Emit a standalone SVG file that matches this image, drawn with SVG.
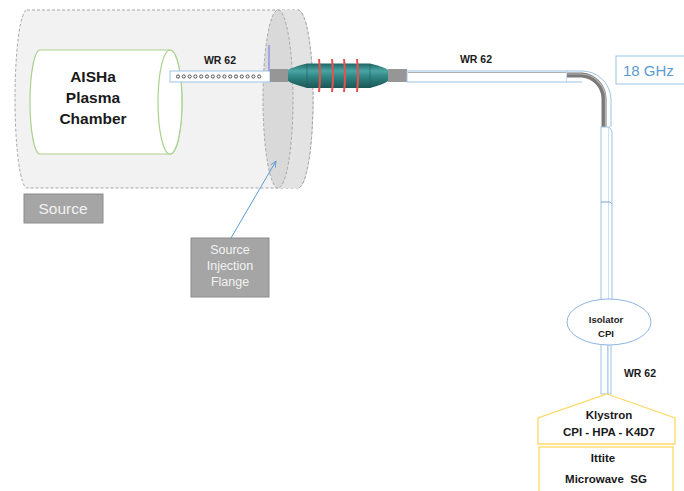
<svg xmlns="http://www.w3.org/2000/svg" width="684" height="491" viewBox="0 0 684 491">
  <defs>
    <style>
      .lbl { font-family: "Liberation Sans", Arial, sans-serif; fill: #1a1a1a; }
      .bold { font-weight: bold; }
      .wg { fill: #ffffff; stroke: #9dc3e6; stroke-width: 1; }
      .grey-box { fill: #a5a5a5; stroke: #8c8c8c; stroke-width: 1; }
      .grey-txt { font-family: "Liberation Sans", Arial, sans-serif; fill: #f2f2f2; text-anchor: middle; }
      .gold { fill: #ffffff; stroke: #ffd966; stroke-width: 1.3; }
      .ring { fill: none; stroke: #e8504f; stroke-width: 2; }
      .block { fill: #969696; }
    </style>
    <linearGradient id="teal" x1="0" y1="0" x2="0" y2="1">
      <stop offset="0" stop-color="#1f6666"/>
      <stop offset="0.3" stop-color="#4aa5a3"/>
      <stop offset="0.55" stop-color="#2f8583"/>
      <stop offset="1" stop-color="#1a5656"/>
    </linearGradient>
    <marker id="arr" viewBox="0 0 10 10" refX="9" refY="5" markerWidth="7" markerHeight="7" orient="auto">
      <path d="M0,1 L9,5 L0,9" fill="none" stroke="#5b9bd5" stroke-width="1.2"/>
    </marker>
  </defs>

  <!-- Ion source body (outer cylinder) -->
  <g id="source-body">
    <path d="M27,10 H298 A15,89 0 0 1 298,188 H27 A12,89 0 0 1 27,10 Z" fill="#f2f2f2" stroke="#a6a6a6" stroke-width="1" stroke-dasharray="3,2"/>
  </g>

  <!-- Injection flange -->
  <g id="injection-flange">
    <path d="M278,10 H298 A15,89 0 0 1 298,188 H278 A15,89 0 0 1 278,10 Z" fill="#d9d9d9"/>
    <path d="M278,10 A15,89 0 0 1 278,188 H298 A15,89 0 0 0 298,10 Z" fill="#e3e3e3"/>
    <path d="M278,188 A15,89 0 0 1 278,10" fill="none" stroke="#a6a6a6" stroke-dasharray="3,2"/>
    <path d="M278,10 A15,89 0 0 1 278,188" fill="none" stroke="#a6a6a6" stroke-dasharray="3,2"/>
    <path d="M298,10 A15,89 0 0 1 298,188" fill="none" stroke="#a6a6a6" stroke-dasharray="3,2"/>
  </g>

  <!-- Plasma chamber -->
  <g id="plasma-chamber">
    <path d="M40,50 H170 A12,52 0 0 1 170,154 H40 A10,52 0 0 1 40,50 Z" fill="#ffffff" stroke="#a9d18e" stroke-width="1.2"/>
    <ellipse cx="170" cy="102" rx="12" ry="52" fill="#ffffff" stroke="#a9d18e" stroke-width="1.2"/>
    <text class="lbl bold" x="93" y="82" font-size="15.5" text-anchor="middle">AISHa</text>
    <text class="lbl bold" x="93" y="103" font-size="15.5" text-anchor="middle">Plasma</text>
    <text class="lbl bold" x="93" y="124" font-size="15.5" text-anchor="middle">Chamber</text>
  </g>

  <!-- Waveguide line: injection section, DC break, transmission line -->
  <g id="waveguide-line">
    <rect class="wg" x="170" y="71" width="100" height="11"/>
    <g fill="none" stroke="#404040" stroke-width="0.9">
      <circle cx="178" cy="76.5" r="1.6"/><circle cx="183.8" cy="76.5" r="1.6"/><circle cx="189.6" cy="76.5" r="1.6"/>
      <circle cx="195.4" cy="76.5" r="1.6"/><circle cx="201.2" cy="76.5" r="1.6"/><circle cx="207" cy="76.5" r="1.6"/>
      <circle cx="212.8" cy="76.5" r="1.6"/><circle cx="218.6" cy="76.5" r="1.6"/><circle cx="224.4" cy="76.5" r="1.6"/>
      <circle cx="230.2" cy="76.5" r="1.6"/><circle cx="236" cy="76.5" r="1.6"/><circle cx="241.8" cy="76.5" r="1.6"/>
      <circle cx="247.6" cy="76.5" r="1.6"/><circle cx="253.4" cy="76.5" r="1.6"/><circle cx="259.2" cy="76.5" r="1.6"/>
    </g>
    <line x1="269" y1="45" x2="269" y2="71" stroke="#7373e6" stroke-width="1"/>
    <text class="lbl bold" x="220" y="64" font-size="10.5" text-anchor="middle">WR 62</text>

    <rect class="block" x="270" y="69" width="18" height="13"/>
    <!-- DC break body -->
    <path d="M288,70 Q290,68 307,63.5 H370 Q385,67 388,70 V81 Q385,84 370,88 H307 Q290,83 288,81 Z" fill="url(#teal)"/>
    <line x1="307" y1="64" x2="307" y2="88" stroke="#1d5b5b" stroke-width="0.6"/>
    <line x1="370" y1="64" x2="370" y2="88" stroke="#1d5b5b" stroke-width="0.6"/>
    <path class="ring" d="M319,59 Q321,75.5 319,92"/>
    <path class="ring" d="M332,59 Q334,75.5 332,92"/>
    <path class="ring" d="M344,59 Q346,75.5 344,92"/>
    <path class="ring" d="M357,59 Q359,75.5 357,92"/>
    <rect class="block" x="388" y="69" width="19" height="13"/>
    <line x1="406" y1="74" x2="409" y2="74" stroke="#e04040" stroke-width="1"/>

    <rect class="wg" x="407" y="71" width="160" height="11"/>
    <line x1="408" y1="72.5" x2="566" y2="72.5" stroke="#b0b0b0" stroke-width="1"/>
    <text class="lbl bold" x="476" y="63" font-size="10.5" text-anchor="middle">WR 62</text>

    <!-- 90 degree bend -->
    <path d="M567,71 H582 A29,29 0 0 1 611,100 V127 H600 V100 A18,18 0 0 0 582,82 H567 Z" fill="#ffffff"/>
    <path d="M567,75 H582 A24,24 0 0 1 604,98 V127" fill="none" stroke="#7a7a7a" stroke-width="5"/>
    <path d="M567,74 H582 A25,25 0 0 1 605.5,98 V127" fill="none" stroke="#b5b5b5" stroke-width="1.2"/>
    <path d="M567,71 H582 A29,29 0 0 1 611,100 V127" fill="none" stroke="#9dc3e6" stroke-width="1"/>
    <path d="M567,82 H582" fill="none" stroke="#9dc3e6" stroke-width="1"/>

    <!-- vertical run down to the isolator -->
    <rect class="wg" x="601" y="127" width="8" height="175"/>
    <path d="M609,127 L612,131 V302 H609" class="wg"/>
    <line x1="601" y1="202" x2="610" y2="202" stroke="#8fb3d9" stroke-width="1.2"/>
    <path d="M610,202 L612,204" fill="none" stroke="#8fb3d9" stroke-width="1"/>

    <!-- run from the isolator to the klystron -->
    <rect class="wg" x="601" y="343" width="7" height="51"/>
    <rect class="wg" x="608" y="343" width="3" height="51"/>
    <text class="lbl bold" x="640" y="377" font-size="10.5" text-anchor="middle">WR 62</text>
  </g>

  <!-- Frequency label -->
  <g id="freq-label">
    <rect x="616" y="56" width="80" height="28" fill="#ffffff" stroke="#9dc3e6" stroke-width="1"/>
    <text x="623" y="76" font-family="Liberation Sans, Arial, sans-serif" font-size="15" fill="#5b9bd5">18 GHz</text>
  </g>

  <!-- Isolator -->
  <g id="isolator">
    <ellipse cx="609" cy="322" rx="42" ry="23" fill="#ffffff" stroke="#8db4e2" stroke-width="1"/>
    <text class="lbl bold" x="606" y="323" font-size="9.5" text-anchor="middle">Isolator</text>
    <text class="lbl bold" x="606" y="337" font-size="9.5" text-anchor="middle">CPI</text>
  </g>

  <!-- Klystron amplifier -->
  <g id="klystron">
    <path class="gold" d="M607,394 L675,418 V444 H538 V418 Z"/>
    <text class="lbl bold" x="609" y="419" font-size="11.5" text-anchor="middle">Klystron</text>
    <text class="lbl bold" x="609" y="436" font-size="11.5" text-anchor="middle">CPI - HPA - K4D7</text>
  </g>

  <!-- Signal generator -->
  <g id="signal-generator">
    <rect class="gold" x="539" y="447" width="134" height="60"/>
    <text class="lbl bold" x="603" y="462" font-size="11.5" text-anchor="middle">Ittite</text>
    <text class="lbl bold" x="606" y="483" font-size="11.5" text-anchor="middle" xml:space="preserve">Microwave  SG</text>
  </g>

  <!-- Caption boxes -->
  <g id="source-label">
    <rect class="grey-box" x="24" y="194" width="79" height="29"/>
    <text class="grey-txt" x="63" y="214" font-size="15.5">Source</text>
  </g>
  <g id="flange-label">
    <rect class="grey-box" x="191" y="238" width="78" height="59"/>
    <text class="grey-txt" x="230" y="254" font-size="12.5">Source</text>
    <text class="grey-txt" x="230" y="270" font-size="12.5">Injection</text>
    <text class="grey-txt" x="230" y="286" font-size="12.5">Flange</text>
  </g>

  <!-- Connectors -->
  <g id="connectors">
    <line x1="231" y1="238" x2="276" y2="161" stroke="#5b9bd5" stroke-width="1" marker-end="url(#arr)"/>
  </g>
</svg>
